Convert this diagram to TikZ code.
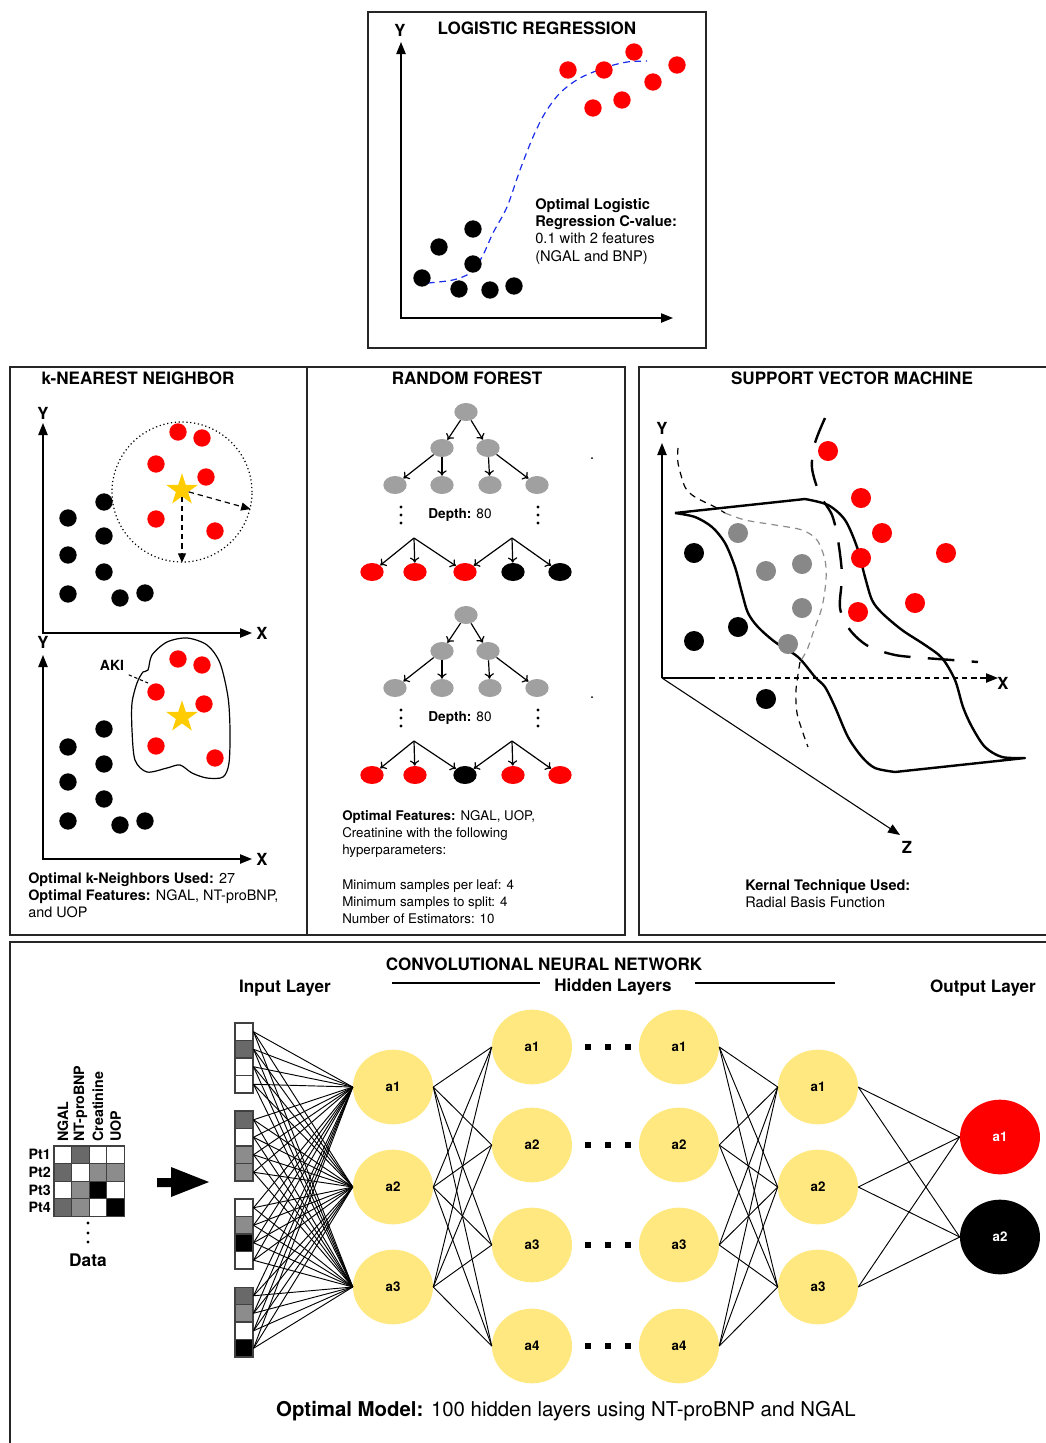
\documentclass[tikz,border=0pt]{standalone}
\usepackage{fontspec}
\setmainfont{TeX Gyre Heros}
\usetikzlibrary{arrows.meta,shapes.geometric}

\definecolor{akired}{RGB}{255,0,0}
\definecolor{stargold}{RGB}{255,204,0}
\definecolor{neuronyellow}{RGB}{255,232,128}
\definecolor{treegray}{RGB}{160,160,160}
\definecolor{svmgray}{RGB}{136,136,136}
\definecolor{darkcell}{RGB}{105,105,105}
\definecolor{midcell}{RGB}{140,140,140}
\definecolor{fitblue}{RGB}{25,45,235}

\tikzset{
  panel/.style={draw=black!85, line width=1.1pt},
  paneltitle/.style={font=\fontsize{12.8}{15}\selectfont\bfseries},
  notetext/.style={font=\fontsize{10.9}{13}\selectfont, align=left, anchor=north west, inner sep=0pt},
  axislabel/.style={font=\fontsize{12.5}{14}\selectfont\bfseries},
  axisarrow/.style={line width=1pt, -{Triangle[length=9pt,width=7pt]}},
  axiscorner/.style={line width=1pt, {Triangle[length=9pt,width=7pt]}-{Triangle[length=9pt,width=7pt]}},
  ptdot/.style={circle, fill=#1, inner sep=0pt, minimum size=13pt},
  svmdot/.style={circle, fill=#1, inner sep=0pt, minimum size=15pt},
  akistar/.style={star, star points=5, star point ratio=2.6, fill=stargold, inner sep=0pt, minimum size=25pt},
  treenode/.style={ellipse, fill=#1, inner sep=0pt, minimum width=17.5pt, minimum height=13.5pt},
  branch/.style={line width=0.9pt, -{To[length=4pt,width=7pt]}},
  tinydot/.style={circle, fill=black, inner sep=0pt, minimum size=#1},
  neuron/.style={ellipse, fill=#1, inner sep=0pt, minimum width=60pt, minimum height=56pt, font=\fontsize{10}{12}\selectfont\bfseries},
  incell/.style={rectangle, draw=black!75, line width=0.8pt, fill=#1, inner sep=0pt, minimum width=13.5pt, minimum height=13.1pt},
  gapsquare/.style={rectangle, fill=black, inner sep=0pt, minimum size=4.5pt},
  cnnwire/.style={line width=0.7pt},
}

\begin{document}
\begin{tikzpicture}[x=0.75pt,y=-0.75pt]
\useasboundingbox (0,0) rectangle (1046,1443);

% Panel frames
\draw[panel] (368,12) rectangle (706,348);
\draw[panel] (10,367) rectangle (307,935);
\draw[panel] (307,367) rectangle (625,935);
\draw[panel] (639,367) rectangle (1048,935);
\draw[panel] (10,942) rectangle (1048,1448);

% Logistic regression
\node[paneltitle] (lrtitle) at (537,28) {LOGISTIC REGRESSION};
\node[axislabel] (lry) at (400,30) {Y};
\draw[axiscorner] (401,42) -- (401,318) -- (673,318);
\draw[fitblue, line width=0.9pt, dash pattern=on 5pt off 3.5pt] plot[smooth] coordinates {(428,283) (453,280) (470,273) (482,257) (493,233) (507,207) (520,170) (533,137) (545,113) (560,93) (580,78) (607,67) (627,62) (647,61)};
\foreach \x/\y in {422/278, 439/247, 473/229, 473/264, 459/289, 490/290, 514/286}
  \node[ptdot=black] at (\x,\y) {};
\foreach \x/\y in {568/70, 604/70, 634/52, 677/65, 653/82, 622/100, 593/108}
  \node[ptdot=akired] at (\x,\y) {};
\node[notetext, font=\fontsize{11}{13}\selectfont] (lrnote) at (535,198) {\textbf{Optimal Logistic}\\\textbf{Regression C-value:}\\0.1 with 2 features\\(NGAL and BNP)};

% k-nearest neighbor, upper plot
\node[paneltitle] (knntitle) at (138,378) {k-NEAREST NEIGHBOR};
\node[axislabel] (knny1) at (43,413) {Y};
\node[axislabel] (knnx1) at (262,633) {X};
\draw[axiscorner] (43,423) -- (43,633) -- (252,633);
\node[circle, draw, line width=0.9pt, dotted, minimum size=105pt, inner sep=0pt] (reach) at (182,492) {};
\foreach \x/\y in {68/518, 104/502, 104/536, 68/555, 104/572, 68/594, 120/598, 145/593}
  \node[ptdot=black] at (\x,\y) {};
\foreach \x/\y in {178/432, 202/438, 156/464, 206/477, 156/519, 215/531}
  \node[ptdot=akired] at (\x,\y) {};
\node[akistar] (knnstar1) at (182,490) {};
\draw[line width=0.9pt, dash pattern=on 4pt off 3pt, -{Triangle[length=7pt,width=6pt]}] (knnstar1) -- (reach.-14);
\draw[line width=0.9pt, dash pattern=on 4pt off 3pt, -{Triangle[length=7pt,width=6pt]}] (knnstar1) -- (reach.south);

% k-nearest neighbor, lower plot
\node[axislabel] (knny2) at (43,642) {Y};
\node[axislabel] (knnx2) at (262,859) {X};
\draw[axiscorner] (43,655) -- (43,859) -- (252,859);
\draw[line width=0.9pt] plot[smooth cycle] coordinates {(152,655) (167,642) (187,638) (207,645) (220,663) (228,697) (230,730) (229,763) (223,777) (207,778) (192,773) (180,765) (167,768) (147,772) (135,760) (132,730) (132,703) (137,683) (143,672) (148,670)};
\foreach \x/\y in {68/747, 104/729, 104/764, 68/782, 104/799, 68/821, 120/825, 145/821}
  \node[ptdot=black] at (\x,\y) {};
\foreach \x/\y in {178/659, 202/665, 156/692, 204/704, 156/746, 215/758}
  \node[ptdot=akired] at (\x,\y) {};
\node[akistar] (knnstar2) at (182,717) {};
\node[font=\fontsize{10.5}{12}\selectfont\bfseries] (akilabel) at (112,665) {AKI};
\coordinate (akiedge) at (148,683);
\draw[line width=0.8pt, dash pattern=on 2.5pt off 2pt] (akilabel.south east) -- (akiedge);
\node[notetext, font=\fontsize{10.8}{13.1}\selectfont] (knnnote) at (28,872) {\textbf{Optimal k-Neighbors Used:} 27\\\textbf{Optimal Features:} NGAL, NT-proBNP,\\and UOP};

% Random forest
\node[paneltitle] (rftitle) at (467,378) {RANDOM FOREST};
\foreach \t/\d/\ca/\cb/\cc/\cd/\ce in {1/0/akired/akired/akired/black/black, 2/203/akired/akired/black/akired/akired}{
  \node[treenode=treegray] (t\t-root) at (466,412+\d) {};
  \node[treenode=treegray] (t\t-l) at (442,448+\d) {};
  \node[treenode=treegray] (t\t-r) at (488,448+\d) {};
  \node[treenode=treegray] (t\t-ll) at (395,485+\d) {};
  \node[treenode=treegray] (t\t-lr) at (442,485+\d) {};
  \node[treenode=treegray] (t\t-rl) at (490,485+\d) {};
  \node[treenode=treegray] (t\t-rr) at (537,485+\d) {};
  \draw[branch] (t\t-root) -- (t\t-l);
  \draw[branch] (t\t-root) -- (t\t-r);
  \draw[branch] (t\t-l) -- (t\t-ll);
  \draw[branch] (t\t-l) -- (t\t-lr);
  \draw[branch] (t\t-r) -- (t\t-rl);
  \draw[branch] (t\t-r) -- (t\t-rr);
  \foreach \yy in {507,515,523}{
    \node[tinydot=2.3pt] at (401,\yy+\d) {};
    \node[tinydot=2.3pt] at (538,\yy+\d) {};
  }
  \node[font=\fontsize{10.2}{12}\selectfont] (t\t-depth) at (460,515+\d) {\textbf{Depth:} 80};
  \coordinate (t\t-p) at (414,538+\d);
  \coordinate (t\t-q) at (512,538+\d);
  \node[treenode=\ca] (t\t-1) at (372,572+\d) {};
  \node[treenode=\cb] (t\t-2) at (415,572+\d) {};
  \node[treenode=\cc] (t\t-3) at (465,572+\d) {};
  \node[treenode=\cd] (t\t-4) at (513,572+\d) {};
  \node[treenode=\ce] (t\t-5) at (560,572+\d) {};
  \foreach \k in {1,2,3} \draw[branch] (t\t-p) -- (t\t-\k);
  \foreach \k in {3,4,5} \draw[branch] (t\t-q) -- (t\t-\k);
}
\node[tinydot=1.5pt] at (592,458) {};
\node[tinydot=1.5pt] at (592,697) {};
\node[notetext, font=\fontsize{10}{12.9}\selectfont] (rfnote) at (342,810) {\textbf{Optimal Features:} NGAL, UOP,\\Creatinine with the following\\hyperparameters:\\[12.9pt]Minimum samples per leaf: 4\\Minimum samples to split: 4\\Number of Estimators: 10};

% Support vector machine
\node[paneltitle] (svmtitle) at (852,378) {SUPPORT VECTOR MACHINE};
\node[axislabel] (svmy) at (662,428) {Y};
\node[axislabel] (svmx) at (1003,683) {X};
\node[axislabel] (svmz) at (907,847) {Z};
\draw[axisarrow] (662,678) -- (662,443);
\draw[line width=1pt] (662,678) -- (710,678);
\draw[line width=0.9pt, dash pattern=on 4pt off 3pt] (710,678) -- (980,678);
\draw[axisarrow] (980,678) -- (998,678);
\draw[line width=0.8pt, -{Triangle[length=9pt,width=7pt]}] (662,678) -- (900,835);
% kernel surface
\draw[line width=1.8pt, line join=round] (675,513) -- plot[smooth] coordinates {(805,499) (828,505) (845,520) (857,547) (865,577) (872,600) (882,613) (902,630) (925,645) (942,658) (955,680) (963,707) (972,727) (985,747) (1002,757) (1025,758)} -- plot[smooth] coordinates {(895,772) (875,768) (862,757) (848,737) (835,707) (825,687) (815,677) (798,657) (775,642) (758,627) (748,613) (742,593) (735,567) (725,543) (712,527) (695,517) (675,513)};
% margins
\draw[line width=0.9pt, dash pattern=on 5pt off 4pt] plot[smooth] coordinates {(678,448) (678,463) (685,487) (695,497) (715,507) (725,513)};
\draw[black!45, line width=0.9pt, dash pattern=on 5pt off 4pt] plot[smooth] coordinates {(725,513) (745,520) (775,525) (802,530) (817,540) (825,560) (826,580) (822,607) (813,633) (807,650) (800,662)};
\draw[line width=0.9pt, dash pattern=on 5pt off 4pt] plot[smooth] coordinates {(800,662) (796,690) (797,713) (803,733) (808,747)};
\draw[line width=1.8pt, dash pattern=on 20pt off 13pt] plot[smooth] coordinates {(825,418) (815,443) (812,468) (820,495) (832,515) (838,540) (842,575) (840,608) (850,630) (868,646) (895,655) (925,658) (952,660) (978,662)};
\foreach \x/\y in {828/451, 861/498, 882/533, 861/558, 946/553, 915/603, 858/612}
  \node[svmdot=akired] at (\x,\y) {};
\foreach \x/\y in {694/553, 694/641, 738/627, 766/699}
  \node[svmdot=black] at (\x,\y) {};
\foreach \x/\y in {738/533, 766/571, 802/564, 802/608, 788/644}
  \node[svmdot=svmgray] at (\x,\y) {};
\node[notetext] (svmnote) at (745,879) {\textbf{Kernal Technique Used:}\\Radial Basis Function};

% Convolutional neural network
\node[paneltitle] (cnntitle) at (544,964) {CONVOLUTIONAL NEURAL NETWORK};
\node[paneltitle] (inlabel) at (285,988) {Input Layer};
\node[paneltitle] (hidlabel) at (613,987) {Hidden Layers};
\node[paneltitle] (outlabel) at (983,988) {Output Layer};
\draw[line width=0.9pt] (392,983) -- (540,983) (695,983) -- (835,983);

% data table
\def\cellsize{17.6}
\foreach \c/\r/\col in {1/1/white, 2/1/darkcell, 3/1/white, 4/1/white,
                        1/2/darkcell, 2/2/white, 3/2/midcell, 4/2/midcell,
                        1/3/white, 2/3/midcell, 3/3/black, 4/3/white,
                        1/4/darkcell, 2/4/midcell, 3/4/white, 4/4/black}
  \draw[draw=black!75, line width=0.8pt, fill=\col] (54+\cellsize*\c-\cellsize,1146+\cellsize*\r-\cellsize) rectangle +(\cellsize,\cellsize);
\foreach \r in {1,...,4}
  \node[font=\fontsize{10.7}{12}\selectfont\bfseries, anchor=east, inner sep=0pt] (pt\r) at (51,1146+\cellsize*\r-\cellsize/2) {Pt\r};
\foreach \c/\name in {1/NGAL, 2/NT-proBNP, 3/Creatinine, 4/UOP}
  \node[rotate=90, anchor=west, inner sep=0pt, font=\fontsize{10.7}{12}\selectfont\bfseries] (col\c) at (54+\cellsize*\c-\cellsize/2,1142) {\name};
\foreach \yy in {1223,1233,1242}
  \node[tinydot=2.5pt] at (88,\yy) {};
\node[font=\fontsize{13}{15}\selectfont\bfseries] (datalabel) at (88,1260) {Data};
\fill (157,1178) -- (171,1178) -- (171,1167) -- (209,1182) -- (171,1197) -- (171,1187) -- (157,1187) -- cycle;

% input layer
\foreach \g/\k/\col in {1/1/white, 1/2/darkcell, 1/3/white, 1/4/white,
                        2/1/darkcell, 2/2/white, 2/3/midcell, 2/4/midcell,
                        3/1/white, 3/2/midcell, 3/3/black, 3/4/white,
                        4/1/darkcell, 4/2/midcell, 4/3/white, 4/4/black}
  \node[incell=\col] (in-\g-\k) at (244,1023+88*\g-88+17.5*\k-8.75) {};

% hidden and output layers
\foreach \i/\y in {1/1087, 2/1187, 3/1287}
  \node[neuron=neuronyellow] (ha\i) at (393,\y) {a\i};
\foreach \i/\y in {1/1047, 2/1145, 3/1245, 4/1346}{
  \node[neuron=neuronyellow] (hb\i) at (532,\y) {a\i};
  \node[neuron=neuronyellow] (hc\i) at (679,\y) {a\i};
  \foreach \x in {588,608,628} \node[gapsquare] at (\x,\y) {};
}
\foreach \i/\y in {1/1087, 2/1187, 3/1287}
  \node[neuron=neuronyellow] (hd\i) at (818,\y) {a\i};
\node[neuron=akired, text=white] (out1) at (1000,1137) {a1};
\node[neuron=black, text=white] (out2) at (1000,1237) {a2};

% connections
\foreach \g in {1,...,4}
  \foreach \k in {1,...,4}
    \foreach \i in {1,2,3}
      \draw[cnnwire] (in-\g-\k.east) -- (ha\i.west);
\foreach \i in {1,2,3}
  \foreach \j in {1,...,4}{
    \draw[cnnwire] (ha\i.east) -- (hb\j.west);
    \draw[cnnwire] (hc\j.east) -- (hd\i.west);
  }
\foreach \i in {1,2,3}
  \foreach \j in {1,2}
    \draw[cnnwire] (hd\i.east) -- (out\j.west);

\node[font=\fontsize{15.3}{17}\selectfont] (cnnnote) at (566,1411) {\textbf{Optimal Model:} 100 hidden layers using NT-proBNP and NGAL};
\end{tikzpicture}
\end{document}
